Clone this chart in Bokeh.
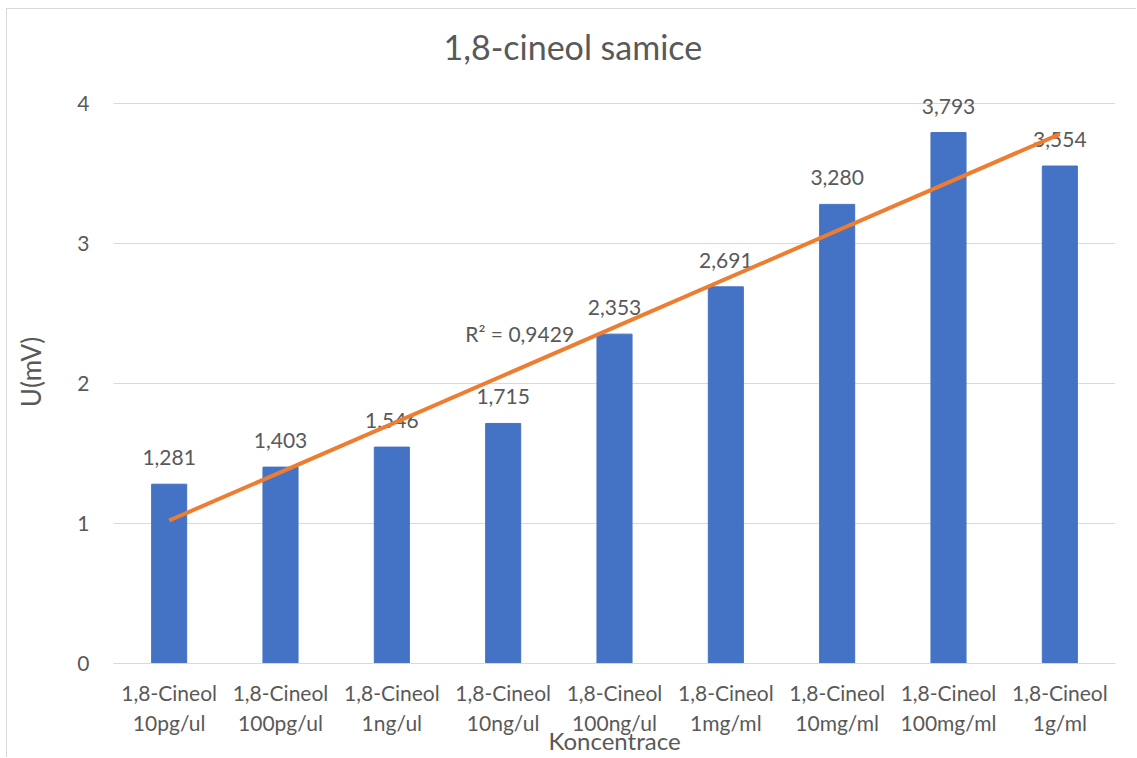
import numpy as np
from bokeh.plotting import figure
from bokeh.models import Range1d, FixedTicker, LabelSet, ColumnDataSource
from bokeh.core.properties import value
from bokeh.embed import file_html
from bokeh.resources import INLINE

categories = ["1,8-Cineol\n10pg/ul", "1,8-Cineol\n100pg/ul", "1,8-Cineol\n1ng/ul",
              "1,8-Cineol\n10ng/ul", "1,8-Cineol\n100ng/ul", "1,8-Cineol\n1mg/ml",
              "1,8-Cineol\n10mg/ml", "1,8-Cineol\n100mg/ml", "1,8-Cineol\n1g/ml"]
values = [1.281, 1.403, 1.546, 1.715, 2.353, 2.691, 3.280, 3.793, 3.554]
value_labels = ["1,281", "1,403", "1,546", "1,715", "2,353", "2,691", "3,280", "3,793", "3,554"]
y_ticks = [0, 1, 2, 3, 4]
r2_text = ["R² = 0,9429"]
r2_pos = [3.66, 2.357]

FONT = "Lato"
GRAY = "#595959"

xs = list(range(1, len(values) + 1))
src = ColumnDataSource(dict(x=xs, top=values, lab=value_labels))

# frame extends a little above the top tick so that the top data label is not clipped
p = figure(width=1130, height=749, output_backend="svg", toolbar_location=None,
           x_range=Range1d(0.5, len(values) + 0.5), y_range=Range1d(0, 4.165),
           min_border_left=106, min_border_right=22, min_border_top=71, min_border_bottom=95)
p.styles = {"margin-left": "6px", "margin-top": "8px",
            "border-left": "1px solid #D9D9D9", "border-top": "1px solid #D9D9D9"}

p.title.text = "1,8-cineol samice"
p.title.align = "left"
p.title.offset = 330
p.title.standoff = 28
p.title.text_font = FONT
p.title.text_font_size = "34px"
p.title.text_font_style = "normal"
p.title.text_color = GRAY

p.outline_line_color = None
p.background_fill_color = "white"
p.border_fill_color = "white"

p.vbar(x="x", top="top", source=src, width=0.315, color="#4472C4")

labels = LabelSet(x="x", y="top", text="lab", source=src, text_align="center",
                  text_baseline="alphabetic", y_offset=19, text_font=value(FONT),
                  text_font_size="21px", text_color=GRAY)
p.add_layout(labels)

coef = np.polyfit(xs, values, 1)
tx = [xs[0], xs[-1]]
ty = [coef[0] * t + coef[1] for t in tx]
trend = p.line(x=tx, y=ty, line_color="#ED7D31", line_width=4)
trend.level = "overlay"

p.text(x=[r2_pos[0]], y=[r2_pos[1]], text=r2_text, text_align="left", text_baseline="middle",
       text_font=value(FONT), text_font_size="21px", text_color=GRAY)

p.xaxis.ticker = FixedTicker(ticks=xs)
p.xaxis.major_label_overrides = {x: c for x, c in zip(xs, categories)}
p.xaxis.axis_line_color = "#D9D9D9"
p.xaxis.axis_line_width = 1
p.xaxis.major_tick_line_color = None
p.xaxis.minor_tick_line_color = None
p.xaxis.major_label_text_font = FONT
p.xaxis.major_label_text_font_size = "21px"
p.xaxis.major_label_text_color = GRAY
p.xaxis.major_label_standoff = 10
p.xaxis.axis_label = "Koncentrace"
p.xaxis.axis_label_text_font = FONT
p.xaxis.axis_label_text_font_size = "24px"
p.xaxis.axis_label_text_font_style = "normal"
p.xaxis.axis_label_text_color = GRAY
p.xaxis.axis_label_standoff = -12

p.yaxis.ticker = FixedTicker(ticks=y_ticks)
p.yaxis.axis_line_color = None
p.yaxis.major_tick_line_color = None
p.yaxis.minor_tick_line_color = None
p.yaxis.major_label_text_font = FONT
p.yaxis.major_label_text_font_size = "21px"
p.yaxis.major_label_text_color = GRAY
p.yaxis.major_label_standoff = 18
p.yaxis.axis_label = "U(mV)"
p.yaxis.axis_label_text_font = FONT
p.yaxis.axis_label_text_font_size = "26px"
p.yaxis.axis_label_text_font_style = "normal"
p.yaxis.axis_label_text_color = GRAY
p.yaxis.axis_label_standoff = 27

p.xgrid.grid_line_color = None
p.ygrid.grid_line_color = "#D9D9D9"
p.ygrid.grid_line_width = 1

open("out.html", "w").write(file_html(p, INLINE))
